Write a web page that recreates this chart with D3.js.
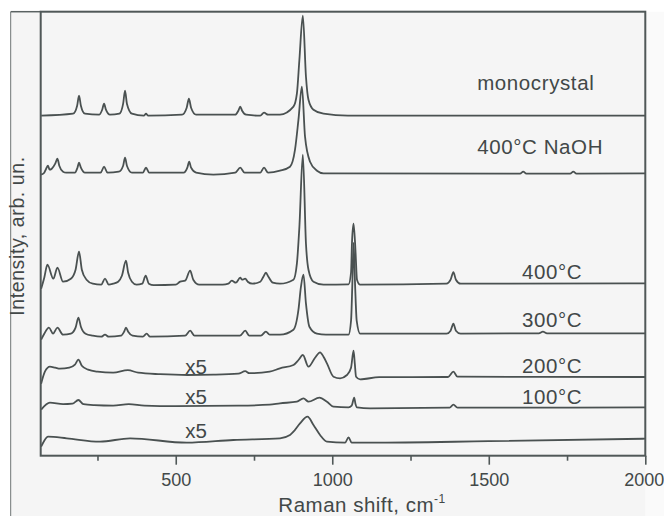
<!DOCTYPE html>
<html><head><meta charset="utf-8">
<script src="https://cdn.jsdelivr.net/npm/d3@7"></script>
<style>
body{margin:0;background:#fff;}
svg{display:block;font-family:"Liberation Sans",Arial,sans-serif;}
</style>
</head><body>
<svg id="chart" width="664" height="516"></svg>
<script>
// ---- data (Raman shift in cm-1, intensity in arb. units, spectra already offset) ----
const xMajorTicks = [500, 1000, 1500, 2000];
const xMinorTicks = [250, 750, 1250, 1750];

const monocrystal = [[70,340],[172,342],[185,350],[191,360],[197,350],[210,342],[255,341],[265,346],[271,352],[277,346],[290,341],
 [320,342],[332,352],[338,365],[344,352],[360,342],[398,340],[405,342],[412,340],[520,341],[535,348],[542,357],[549,348],[565,341],
 [690,341],[700,345],[706,349],[712,345],[725,341],[770,340],[782,343],[795,341],[833,341],[876,349],[887,362],[895,396],[906,440],
 [916,379],[924,356],[940,346],[972,342],[1050,340],[2000,340]];

const naoh400 = [[70,281],[80,283],[86,287],[92,290],[97,286],[104,287],[115,292],[122,297],[128,290],[140,284],[150,283],
 [178,283],[186,288],[191,293],[197,288],[210,283],[260,283],[271,289],[282,283],[318,284],[332,290],[338,298],[344,290],[360,283],
 [395,283],[405,288],[415,283],[525,283],[537,288],[543,294],[549,288],[565,283],[620,281],[690,283],[706,288],[720,283],
 [770,283],[782,288],[795,283],[833,285],[865,289],[881,306],[892,336],[903,369],[913,319],[929,294],[951,285],[972,282.4],
 [1600,282],[1610,284],[1620,282],[1760,282],[1770,284],[1780,282],[2000,282.4]];

const t400 = [[70,167],[80,178],[90,191],[109,177],[122,188],[140,174],[165,177],[180,186],[191,204],[200,186],[215,176],[235,172],
 [262,171],[274,177],[286,171],[300,172],[316,174],[328,180],[341,195],[348,183],[360,174],[375,171],[393,172],[404,180],[414,172],[430,170.5],
 [500,171],[514,174],[530,175],[546,185],[556,176],[575,171],[650,171],[668,172],[679,175],[692,173],[706,178],[712,176],[722,177],[730,174],[745,172],
 [770,174],[780,179],[788,183],[796,179],[810,173],[833,172],[876,176],[887,192],[895,229],[906,301],[916,212],[924,186],[940,174],[972,171],
 [1052,171.4],[1060,183],[1063,213],[1068,232],[1074,206],[1079,176],[1089,171],[1365,172],[1378,176],[1387,183.5],[1395,176],[1410,172],[2000,172.4]];

const t300 = [[70,116],[80,122],[95,128],[108,122],[122,128],[140,121],[165,122],[180,128],[189,138],[197,129],[212,122],[235,120],
 [262,119],[274,121],[286,119],[325,120],[335,124],[341,128],[348,124],[362,120],[395,119],[407,122],[418,119],[530,120],[546,125],[560,120],
 [705,120],[722,125],[735,120],[772,120],[788,124],[800,121],[833,121],[876,126],[892,146],[900,169],[908,181],[916,152],[927,129],[951,122],[980,121],
 [1052,121],[1060,135],[1064,170],[1068,213],[1073,170],[1078,135],[1089,122],[1365,122],[1378,125],[1387,132],[1395,125],[1410,122],
 [1660,122.4],[1673,124],[1686,122.4],[2000,122.4]];

const t200 = [[70,72],[82,84],[98,89],[115,88],[130,87],[160,88],[178,91],[189,96],[200,90],[220,86],[250,84],[300,83],[347,85.5],[380,83],
 [450,81.5],[538,80.7],[620,81],[700,82],[722,84.5],[735,82.5],[800,84],[833,87.4],[876,90.7],[892,95.7],[906,100.7],[924,89],[945,98],[961,103.4],
 [972,99],[983,92.4],[1004,79],[1025,77.4],[1047,80.7],[1060,88],[1068,105],[1072,92],[1076,79],[1089,76.4],[1150,78.5],[1370,78.7],[1387,84],
 [1400,79],[2000,78.7]];

const t100 = [[70,46],[98,53],[140,51.5],[170,52],[189,55.7],[205,51.5],[240,50.5],[300,50],[350,51.5],[400,50],[500,49.5],[700,50],[800,51],
 [833,52.4],[887,54],[908,57.4],[924,54],[959,58],[983,54],[1004,49],[1052,48.4],[1062,50],[1070,58],[1074,52],[1079,48.4],[1121,47.4],
 [1375,48],[1387,51],[1400,48],[2000,48.4]];

const tRoom = [[70,9],[80,15],[92,19],[152,17.4],[258,14],[354,17.4],[535,13],[684,15.7],[833,17.4],[865,20.7],[876,24],[897,32.4],[921,39],
 [940,30.7],[961,20.7],[983,14],[1041,13],[1052,18.4],[1062,13],[1121,13],[1500,14.5],[2000,17]];

const spectra = [monocrystal, naoh400, t400, t300, t200, t100, tRoom];
const sampleLabels = ["monocrystal", "400°C NaOH", "400°C", "300°C", "200°C", "100°C", ""];
const factorLabels = ["", "", "", "", "x5", "x5", "x5"];
const xTitle = "Raman shift, cm";
const xTitleSup = "-1";
const yTitle = "Intensity, arb. un.";

// ---- layout ----
const W = 664, H = 516;
const mLeft = 40.7, mRight = 645.3, mTop = 11.7, mBottom = 455.7;
const lineColor = "#4a5151", textColor = "#424848";

const svg = d3.select("#chart");
const x = d3.scaleLinear().domain([68.6, 2000]).range([mLeft, mRight]);
const y = d3.scaleLinear().domain([0, 444]).range([mBottom, mTop]);

// backgrounds
svg.append("rect").attr("x", 0).attr("y", 0).attr("width", W).attr("height", H).attr("fill", "#ffffff");
svg.append("rect").attr("x", mRight).attr("y", mTop).attr("width", W - mRight).attr("height", H - mTop).attr("fill", "#fafafa");
svg.append("rect").attr("x", 10.7).attr("y", mTop).attr("width", mRight - 10.7).attr("height", H - mTop).attr("fill", "#f5f5f5");
svg.append("line").attr("x1", 10.7).attr("x2", 10.7).attr("y1", mTop).attr("y2", H).attr("stroke", "#6e7474").attr("stroke-width", 1);
svg.append("line").attr("x1", 10.7).attr("x2", mLeft).attr("y1", mTop).attr("y2", mTop).attr("stroke", "#5a6262").attr("stroke-width", 1.5);

// spectra
const line = d3.line().x(d => x(d[0])).y(d => y(d[1])).curve(d3.curveMonotoneX);
svg.append("g").selectAll("path").data(spectra).join("path")
  .attr("d", line).attr("fill", "none").attr("stroke", lineColor)
  .attr("stroke-width", 1.8).attr("stroke-linejoin", "round");

// frame
svg.append("rect").attr("x", mLeft).attr("y", mTop).attr("width", mRight - mLeft).attr("height", mBottom - mTop)
  .attr("fill", "none").attr("stroke", "#505858").attr("stroke-width", 2);

// axes
const axMajor = svg.append("g").attr("transform", `translate(0,${mBottom})`)
  .call(d3.axisBottom(x).tickValues(xMajorTicks).tickSize(9).tickPadding(9).tickFormat(d3.format("d")));
const axMinor = svg.append("g").attr("transform", `translate(0,${mBottom})`)
  .call(d3.axisBottom(x).tickValues(xMinorTicks).tickSize(5).tickFormat(""));
[axMajor, axMinor].forEach(g => {
  g.select(".domain").remove();
  g.selectAll("line").attr("stroke", "#505858").attr("stroke-width", 1.6);
});
axMajor.selectAll("text").attr("fill", textColor).attr("font-size", 18)
  .attr("font-family", '"Liberation Sans",Arial,sans-serif')
  .attr("dx", d => d === 2000 ? -1.5 : 0);

// sample labels (anchored in data coordinates)
const labelAnchor = [[1463, 366], [1463, 301.5], [1606, 176.5], [1606, 128.5], [1606, 83.2], [1606, 51.5], [0, 0]];
svg.append("g").selectAll("text").data(sampleLabels.map((t, i) => ({t, a: labelAnchor[i]})).filter(d => d.t))
  .join("text").attr("x", d => x(d.a[0])).attr("y", d => y(d.a[1]))
  .attr("fill", textColor).attr("font-size", 20.5).attr("letter-spacing", 0.6).text(d => d.t);

const factorAnchor = [0, 0, 0, 0, 81.7, 51.7, 18.2];
svg.append("g").selectAll("text").data(factorLabels.map((t, i) => ({t, v: factorAnchor[i]})).filter(d => d.t))
  .join("text").attr("x", x(565)).attr("y", d => y(d.v)).attr("text-anchor", "middle")
  .attr("fill", textColor).attr("font-size", 20.5).text(d => d.t);

// axis titles
const xt = svg.append("text").attr("x", 362).attr("y", 512).attr("text-anchor", "middle")
  .attr("fill", textColor).attr("font-size", 20.5).attr("letter-spacing", 0.5);
xt.append("tspan").text(xTitle);
xt.append("tspan").attr("font-size", 12).attr("dy", -9).text(xTitleSup);

svg.append("text").attr("transform", "translate(24,236) rotate(-90)").attr("text-anchor", "middle")
  .attr("fill", textColor).attr("font-size", 19.5).attr("letter-spacing", 0.6).text(yTitle);
</script>
</body></html>
